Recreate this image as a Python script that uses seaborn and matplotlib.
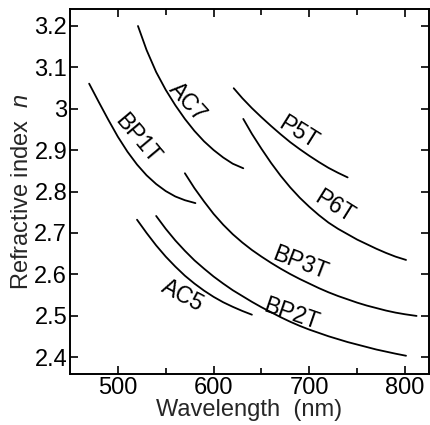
import matplotlib
matplotlib.use("Agg")
import matplotlib.pyplot as plt
import pandas as pd
import seaborn as sns

# Dispersion curves: refractive index n versus wavelength (nm)
bp1t_wl = [470, 480, 490, 500, 510, 520, 530, 540, 550, 560, 570, 581]
bp1t_n = [3.060, 3.016, 2.973, 2.932, 2.896, 2.865, 2.839, 2.818, 2.801,
          2.788, 2.779, 2.772]

ac7_wl = [521, 530, 540, 550, 560, 570, 580, 590, 600, 610, 620, 631]
ac7_n = [3.199, 3.141, 3.088, 3.045, 3.008, 2.975, 2.946, 2.921, 2.900,
         2.882, 2.867, 2.856]

p5t_wl = [621, 630, 640, 650, 660, 670, 680, 690, 700, 710, 720, 730, 740]
p5t_n = [3.049, 3.025, 3.001, 2.979, 2.958, 2.938, 2.919, 2.902, 2.886,
         2.871, 2.857, 2.845, 2.834]

p6t_wl = [631, 640, 650, 660, 670, 680, 690, 700, 710, 720, 730, 740, 750,
          760, 770, 780, 790, 801]
p6t_n = [2.975, 2.939, 2.903, 2.869, 2.838, 2.810, 2.785, 2.763, 2.743,
         2.725, 2.710, 2.697, 2.684, 2.673, 2.662, 2.652, 2.643, 2.635]

bp3t_wl = [570, 580, 590, 600, 610, 620, 630, 640, 650, 660, 670, 680, 690,
           700, 710, 720, 730, 740, 750, 760, 770, 780, 790, 800, 812]
bp3t_n = [2.844, 2.808, 2.776, 2.746, 2.720, 2.697, 2.677, 2.659, 2.643,
          2.628, 2.614, 2.601, 2.589, 2.578, 2.567, 2.557, 2.548, 2.540,
          2.532, 2.525, 2.519, 2.513, 2.508, 2.504, 2.500]

bp2t_wl = [540, 550, 560, 570, 580, 590, 600, 610, 620, 630, 640, 650, 660,
           670, 680, 690, 700, 710, 720, 730, 740, 750, 760, 770, 780, 790,
           801]
bp2t_n = [2.741, 2.710, 2.682, 2.657, 2.634, 2.614, 2.595, 2.578, 2.562,
          2.548, 2.534, 2.521, 2.509, 2.497, 2.486, 2.476, 2.467, 2.459,
          2.451, 2.444, 2.437, 2.431, 2.425, 2.419, 2.414, 2.409, 2.404]

ac5_wl = [520, 530, 540, 550, 560, 570, 580, 590, 600, 610, 620, 630, 640]
ac5_n = [2.732, 2.700, 2.670, 2.643, 2.619, 2.597, 2.578, 2.561, 2.546,
         2.533, 2.522, 2.512, 2.503]

series = {
    "BP1T": (bp1t_wl, bp1t_n),
    "AC7": (ac7_wl, ac7_n),
    "P5T": (p5t_wl, p5t_n),
    "P6T": (p6t_wl, p6t_n),
    "BP3T": (bp3t_wl, bp3t_n),
    "BP2T": (bp2t_wl, bp2t_n),
    "AC5": (ac5_wl, ac5_n),
}

# In-plot curve labels: (wavelength, n, rotation)
label_pos = {
    "AC7": (573, 3.015, -48),
    "BP1T": (520, 2.927, -50),
    "P5T": (688, 2.941, -32),
    "P6T": (726, 2.764, -32),
    "BP3T": (690, 2.628, -21),
    "BP2T": (681, 2.505, -19),
    "AC5": (568, 2.549, -28),
}

x_ticks = [500, 600, 700, 800]
x_minor = [550, 650, 750]
y_ticks = [2.4, 2.5, 2.6, 2.7, 2.8, 2.9, 3.0, 3.1, 3.2]

rows = []
for name, (wl, n) in series.items():
    for w, v in zip(wl, n):
        rows.append({"sample": name, "wavelength": w, "n": v})
df = pd.DataFrame(rows)

sns.set_style("ticks")
plt.rcParams["font.family"] = ["Liberation Sans", "DejaVu Sans"]
plt.rcParams["mathtext.fontset"] = "custom"
plt.rcParams["mathtext.it"] = "Liberation Sans:italic"
plt.rcParams["mathtext.rm"] = "Liberation Sans"

fig = plt.figure(figsize=(4.30, 4.25), dpi=100)
ax = fig.add_axes([70 / 430, 1 - 374 / 425, 359 / 430, 365 / 425])

sns.lineplot(data=df, x="wavelength", y="n", hue="sample", units="sample",
             estimator=None, sort=False, palette=["black"] * len(series),
             linewidth=1.3, legend=False, ax=ax)

fs = 17
for name, (x, y, rot) in label_pos.items():
    ax.text(x, y, name, rotation=rot, rotation_mode="anchor",
            ha="center", va="center", fontsize=fs - 0.5, color="black")

ax.set_xlim(450, 825)
ax.set_ylim(2.36, 3.24)
ax.set_xticks(x_ticks)
ax.set_xticks(x_minor, minor=True)
ax.set_yticks(y_ticks)
ax.set_yticklabels([f"{v:g}" for v in y_ticks])

ax.tick_params(which="both", direction="in", top=True, right=True,
               labelsize=fs, width=1.2, colors="black", pad=2)
ax.tick_params(which="major", length=6)
ax.tick_params(which="minor", length=4)

for sp in ax.spines.values():
    sp.set_linewidth(1.4)
    sp.set_color("black")

ax.set_xlabel("Wavelength  (nm)", fontsize=fs, labelpad=0)
ax.set_ylabel("Refractive index  $n$", fontsize=fs, labelpad=1)

fig.savefig("out.png", dpi=100)
